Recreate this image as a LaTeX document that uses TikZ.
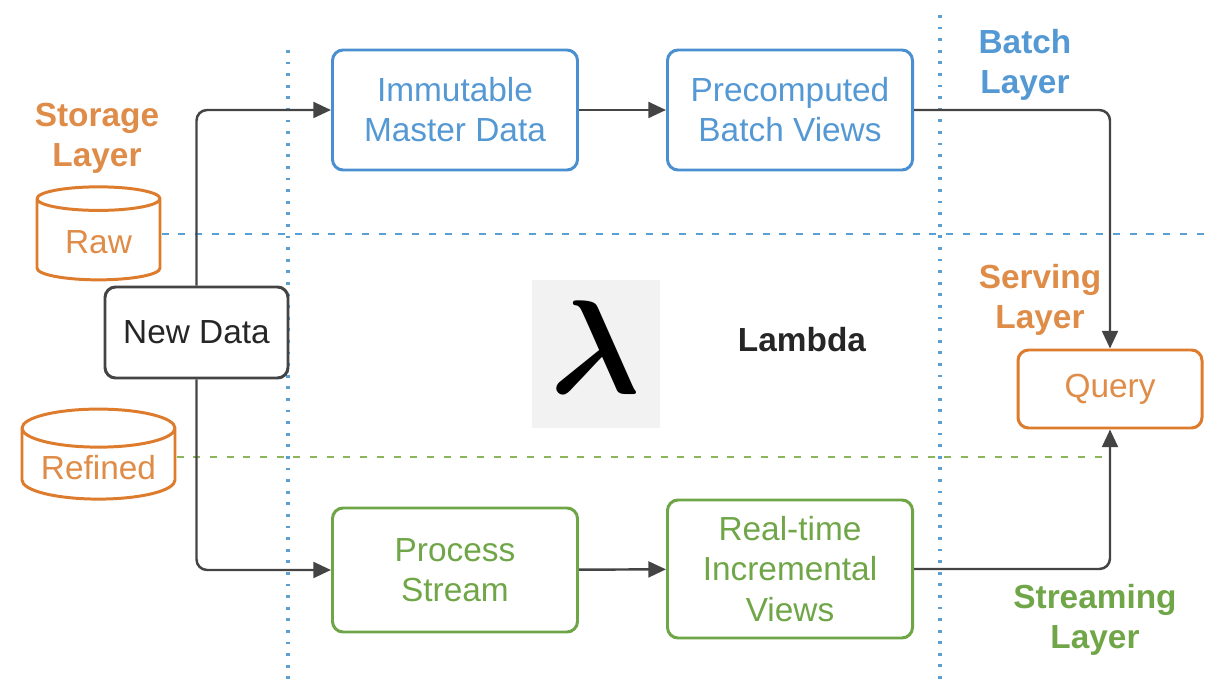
\documentclass[tikz,border=0pt]{standalone}
\usepackage{fontspec}
\setmainfont{Liberation Sans}
\usepackage{amsmath}
\usepackage{tikz}
\usetikzlibrary{shapes.geometric, arrows.meta}
\usepackage{xcolor}
\definecolor{blueB}{RGB}{74,144,208}
\definecolor{blueT}{RGB}{84,152,212}
\definecolor{orangeB}{RGB}{222,124,46}
\definecolor{orangeT}{RGB}{222,140,72}
\definecolor{greenB}{RGB}{110,165,70}
\definecolor{greenT}{RGB}{112,166,72}
\definecolor{arrowC}{RGB}{68,68,68}
\definecolor{dotB}{RGB}{90,160,212}
\definecolor{dotG}{RGB}{140,182,90}

\tikzset{
  box/.style={draw, rounded corners=6pt, line width=1.7pt, fill=white, align=center,
    font=\fontsize{19}{22.8}\selectfont},
  batchbox/.style={box, draw=blueB, text=blueT, minimum width=4.9cm, minimum height=2.4cm},
  streambox/.style={box, draw=greenB, text=greenT, minimum width=4.9cm},
  store/.style={cylinder, shape border rotate=90, aspect=0.3, draw=orangeB, line width=1.7pt,
    text=orangeT, font=\fontsize{19}{22.8}\selectfont},
  layer/.style={align=center, font=\bfseries\fontsize{19}{22.8}\selectfont},
  arr/.style={-{Triangle[length=10pt,width=9pt]}, arrowC, line width=1.4pt, rounded corners=6pt},
  vdots/.style={dotB, line width=2pt, dash pattern=on 1.6pt off 5pt},
  hdash/.style={line width=1.6pt, dash pattern=on 4pt off 5.5pt}
}

\begin{document}
\begin{tikzpicture}
    \useasboundingbox (0,0) rectangle (24.12,-13.72);
    % layer boundaries
    \draw[vdots] (5.76,-1.0) -- (5.76,-13.72);
    \draw[vdots] (18.8,-0.3) -- (18.8,-13.72);
    % storage
    \node[store, minimum width=2.46cm, minimum height=1.86cm] (raw) at (1.97,-4.85) {Raw};
    \node[store, minimum width=3.06cm, minimum height=1.8cm] (refined) at (1.97,-9.36) {Refined};
    \node[layer, text=orangeT] (storage) at (1.94,-2.76) {Storage\\Layer};
    \coordinate (bend) at (24.12,-4.68);
    \coordinate (gend) at (22.2,-9.14);
    \draw[hdash, dotB] (raw.east |- bend) -- (bend);
    \draw[hdash, dotG] (refined.east |- gend) -- (gend);
    % nodes
    \node[box, draw=arrowC, text=black!85, minimum width=3.66cm, minimum height=1.82cm] (new) at (3.93,-6.65) {New Data};
    \node[batchbox] (imm) at (9.1,-2.2) {Immutable\\Master Data};
    \node[batchbox] (pre) at (15.8,-2.2) {Precomputed\\Batch Views};
    \node[streambox, minimum height=2.48cm] (proc) at (9.1,-11.4) {Process\\Stream};
    \node[streambox, minimum height=2.76cm] (rt) at (15.8,-11.38) {Real-time\\Incremental\\Views};
    \node[box, draw=orangeB, text=orangeT, minimum width=3.68cm, minimum height=1.56cm] (query) at (22.2,-7.78) {Query};
    % lambda
    \node[fill=black!5, minimum width=2.56cm, minimum height=2.96cm, inner sep=0pt] (lam) at (11.92,-7.08) {};
    \node[inner sep=0pt] (lamsym) at (11.9,-6.95) {\scalebox{7.6}{$\boldsymbol{\lambda}$}};
    \node[layer, text=black!85] (lamtxt) at (16.04,-6.8) {Lambda};
    % layer labels
    \node[layer, text=blueT] (batch) at (20.5,-1.3) {Batch\\Layer};
    \node[layer, text=orangeT] (serving) at (20.8,-6.0) {Serving\\Layer};
    \node[layer, text=greenT] (streaming) at (21.9,-12.4) {Streaming\\Layer};
    % flows
    \draw[arr] (new.north) |- (imm.west);
    \draw[arr] (new.south) |- (proc.west);
    \draw[arr] (imm) -- (pre);
    \draw[arr] (proc) -- (rt);
    \draw[arr] (pre.east) -| (query.north);
    \draw[arr] (rt.east) -| (query.south);
\end{tikzpicture}
\end{document}
